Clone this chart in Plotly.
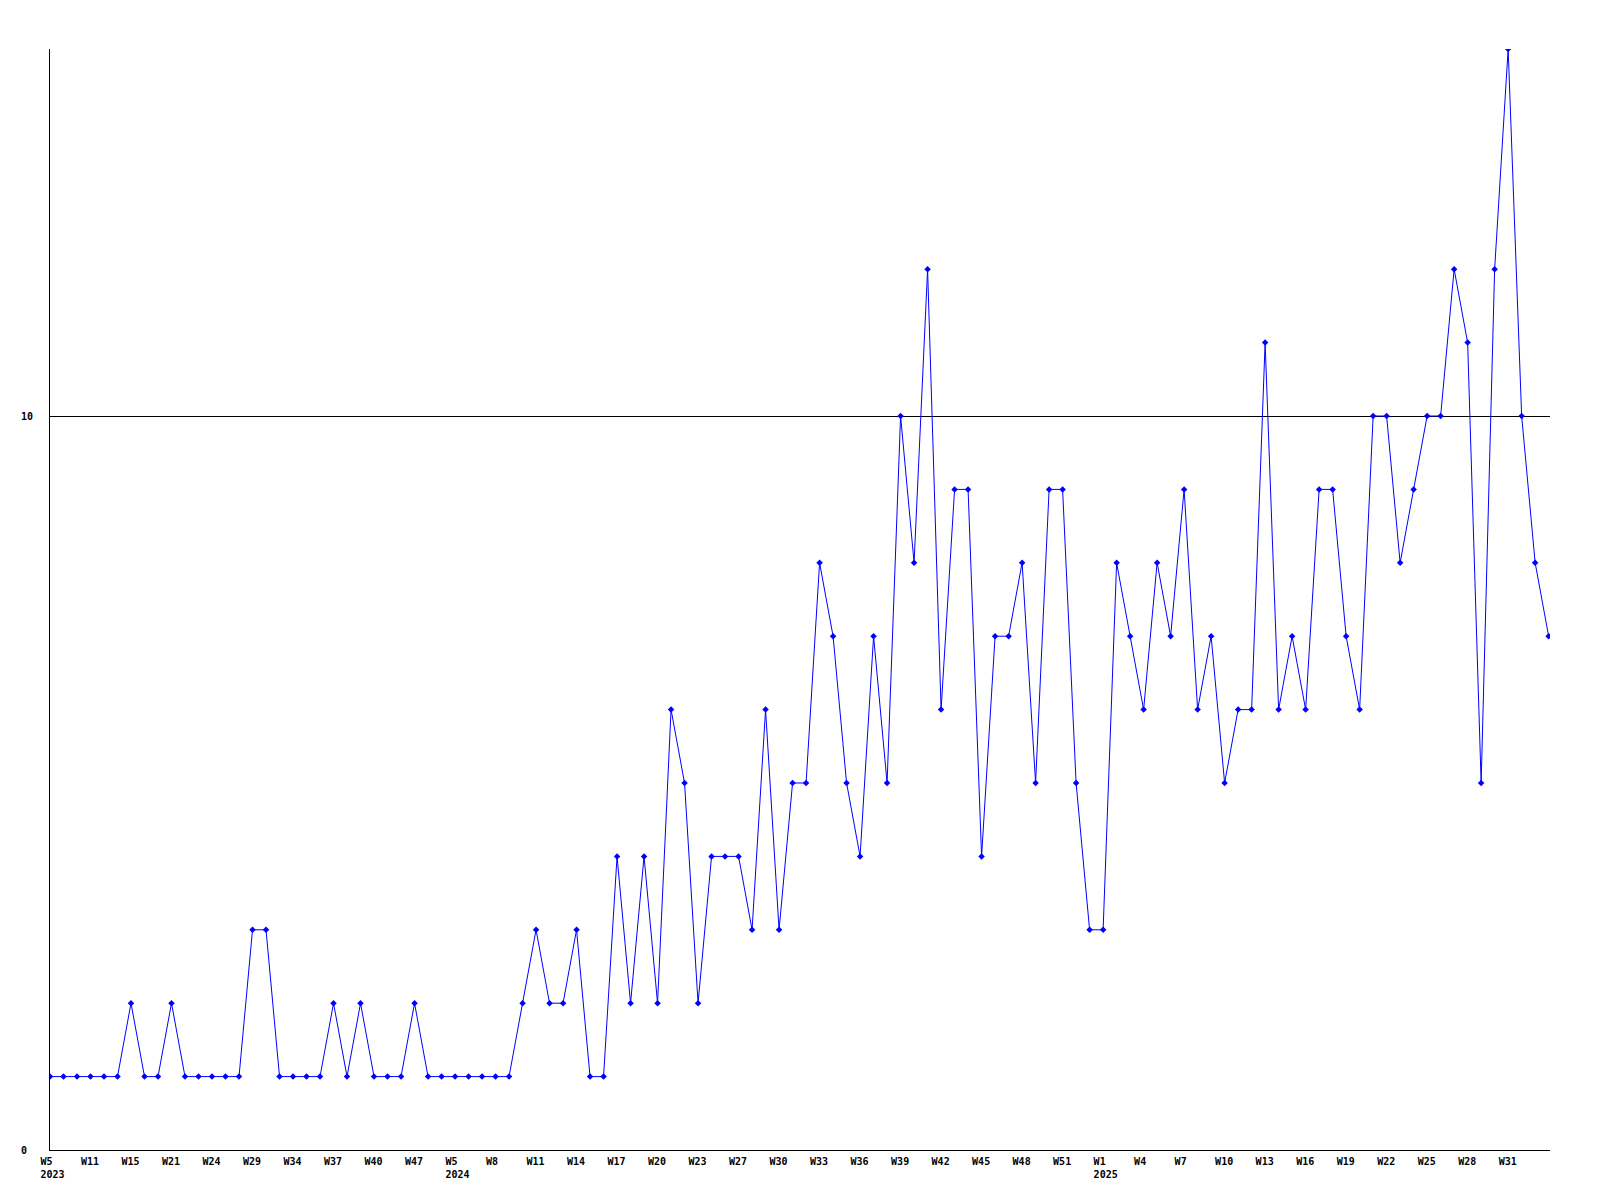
import plotly.graph_objects as go

values = [1, 1, 1, 1, 1, 1, 2, 1, 1, 2, 1, 1, 1, 1, 1, 3, 3, 1, 1, 1,
          1, 2, 1, 2, 1, 1, 1, 2, 1, 1, 1, 1, 1, 1, 1, 2, 3, 2, 2, 3,
          1, 1, 4, 2, 4, 2, 6, 5, 2, 4, 4, 4, 3, 6, 3, 5, 5, 8, 7, 5,
          4, 7, 5, 10, 8, 12, 6, 9, 9, 4, 7, 7, 8, 5, 9, 9, 5, 3, 3, 8,
          7, 6, 8, 7, 9, 6, 7, 5, 6, 6, 11, 6, 7, 6, 9, 9, 7, 6, 10, 10,
          8, 9, 10, 10, 12, 11, 5, 12, 15, 10, 8, 7]

tick_labels = ["W5", "W11", "W15", "W21", "W24", "W29", "W34", "W37", "W40", "W47",
               "W5", "W8", "W11", "W14", "W17", "W20", "W23", "W27", "W30", "W33",
               "W36", "W39", "W42", "W45", "W48", "W51", "W1", "W4", "W7", "W10",
               "W13", "W16", "W19", "W22", "W25", "W28", "W31"]
tick_step = 3
year_positions = [0, 30, 78]
year_labels = ["2023", "2024", "2025"]

y_ticks = [0, 10]
y_tick_text = ["0\u00a0", "10"]

x = list(range(len(values)))
tickvals = [i * tick_step for i in range(len(tick_labels))]
ticktext = []
for tv, lab in zip(tickvals, tick_labels):
    if tv in year_positions:
        lab = lab + "<br>" + year_labels[year_positions.index(tv)]
    ticktext.append(lab)

font = dict(family="DejaVu Sans Mono", size=10, color="black", weight="bold")

fig = go.Figure()
fig.add_trace(go.Scatter(
    x=x, y=values, mode="lines+markers",
    line=dict(color="#0000FF", width=1),
    marker=dict(symbol="diamond", size=5, color="#0000FF"),
    showlegend=False, hoverinfo="skip",
))

fig.update_layout(
    width=1600, height=1200,
    margin=dict(l=42, r=58, t=41, b=58, pad=0),
    paper_bgcolor="white", plot_bgcolor="white",
    font=font,
)
fig.update_xaxes(
    range=[0, len(values) - 1 + 0.1],
    tickmode="array", tickvals=tickvals, ticktext=ticktext,
    showgrid=False, zeroline=False,
    showline=True, linecolor="black", linewidth=1,
    ticks="", tickfont=font,
    ticklabelposition="outside right", ticklabelshift=-10,
    ticklabelstandoff=2,
)
fig.update_yaxes(
    range=[0, 15],
    tickmode="array", tickvals=y_ticks, ticktext=y_tick_text,
    showgrid=True, gridcolor="black", gridwidth=1,
    zeroline=False,
    showline=True, linecolor="black", linewidth=1,
    ticks="", tickfont=font, ticklabelstandoff=14,
)

fig.write_html("out.html")
